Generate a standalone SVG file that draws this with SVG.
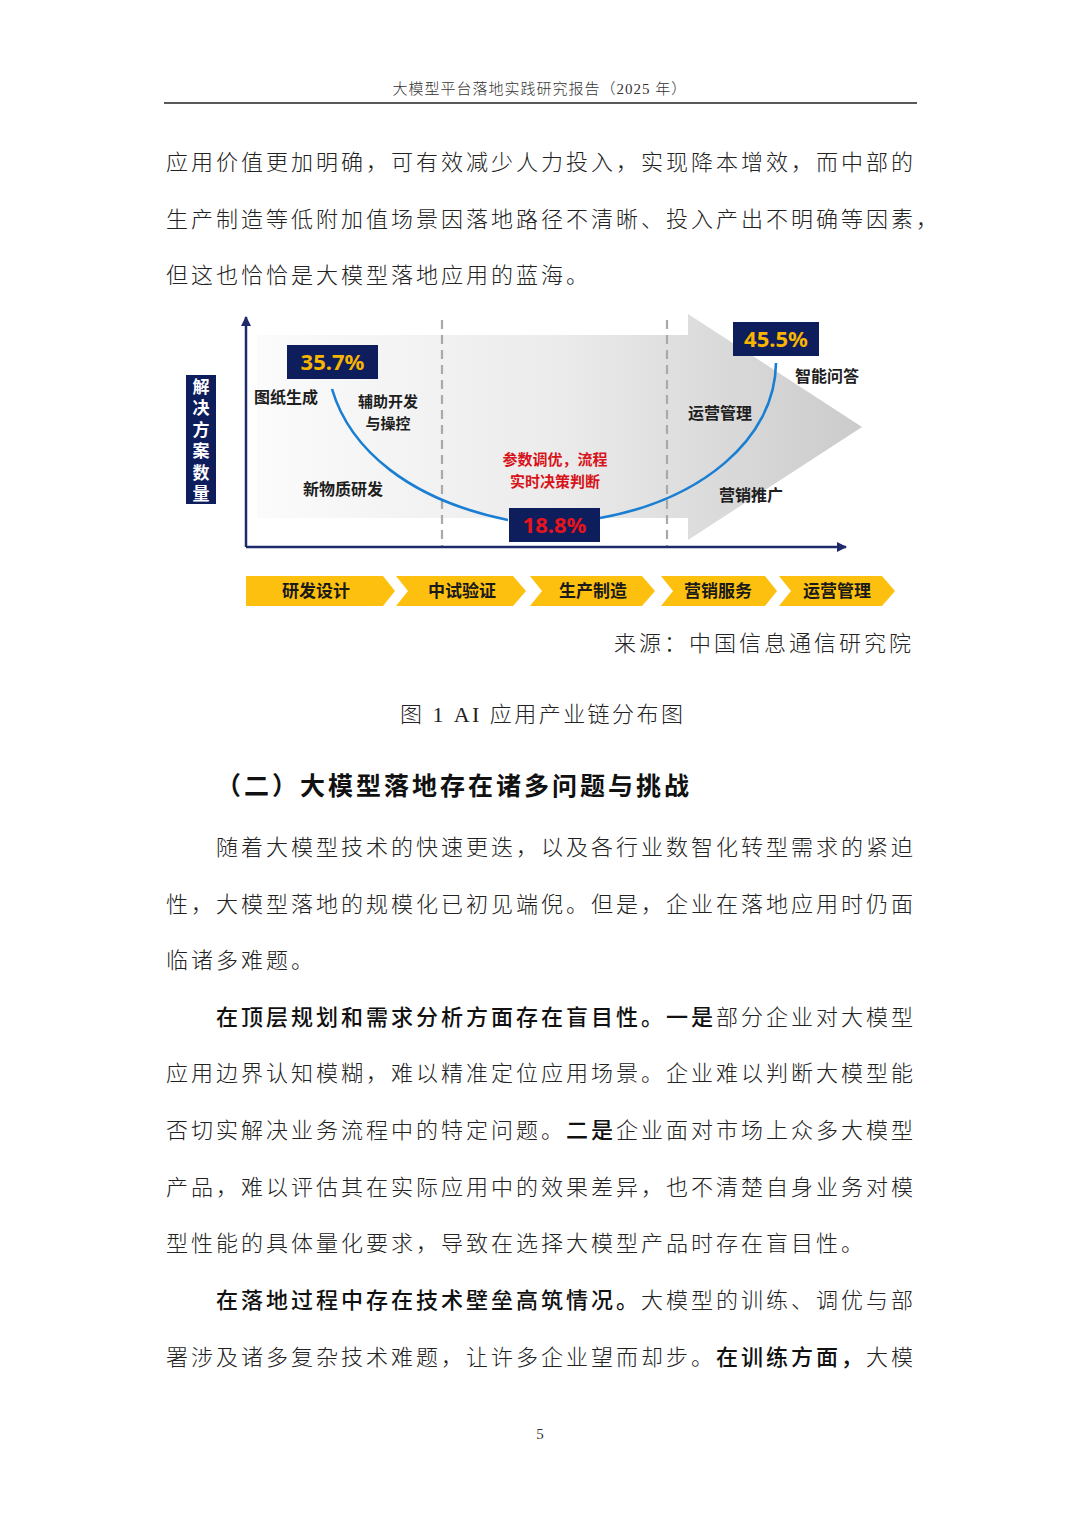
<svg xmlns="http://www.w3.org/2000/svg" width="1080" height="1528" viewBox="0 0 1080 1528">
<defs>
<linearGradient id="bg" x1="257" y1="0" x2="862" y2="0" gradientUnits="userSpaceOnUse">
<stop offset="0" stop-color="#fbfbfb"/>
<stop offset="0.5" stop-color="#ebebeb"/>
<stop offset="1" stop-color="#cbcbcb"/>
</linearGradient>
<marker id="ah" viewBox="0 0 10 10" refX="9" refY="5" markerWidth="4" markerHeight="4" orient="auto" markerUnits="strokeWidth">
<path d="M0,0 L10,5 L0,10 z" fill="#1f2a6b"/>
</marker>
<style>
.body{font-family:"Noto Sans CJK SC","Liberation Serif",serif;font-size:22px;font-weight:300;letter-spacing:3px;fill:#222}
.b{font-weight:500;fill:#111}
.hdr{font-family:"Liberation Serif","Noto Sans CJK SC",serif;font-size:15px;font-weight:300;fill:#333;letter-spacing:1px}
.cap{font-family:"Liberation Serif","Noto Sans CJK SC",serif;font-size:22px;font-weight:300;fill:#222}
.h2{font-family:"Noto Sans CJK SC",sans-serif;font-size:25px;font-weight:700;letter-spacing:3px;fill:#111}
.lbl{font-family:"Noto Sans CJK SC",sans-serif;font-size:16px;font-weight:700;fill:#1e1e1e}
.lbl2{font-family:"Noto Sans CJK SC",sans-serif;font-size:15px;font-weight:700;fill:#1e1e1e}
.red{font-family:"Noto Sans CJK SC",sans-serif;font-size:15px;font-weight:700;fill:#d7141a}
.pct{font-family:"Noto Sans","Noto Sans CJK SC",sans-serif;font-size:22px;font-weight:700}
.box{fill:#0e1d5c}
.chev{fill:#fdc00f}
.chevt{font-family:"Noto Sans CJK SC",sans-serif;font-size:17px;font-weight:700;fill:#1a1a1a;text-anchor:middle}
.dash{stroke:#a9a9a9;stroke-width:2.2;stroke-dasharray:9,6;fill:none}
.axis{stroke:#1f2a6b;stroke-width:2.5;fill:none}
.curve{stroke:#1a7fd2;stroke-width:2.6;fill:none}
.vt{font-family:"Noto Sans CJK SC",sans-serif;font-size:17px;font-weight:700;fill:#fff;letter-spacing:4.5px}
</style>
</defs>
<rect width="1080" height="1528" fill="#fff"/>

<g id="header">
<text class="hdr" x="540" y="94" text-anchor="middle">大模型平台落地实践研究报告（2025 年）</text>
<line x1="164" y1="103" x2="917" y2="103" stroke="#222" stroke-width="1.5"/>
</g>

<g id="para1">
<text class="body" x="166" y="170">应用价值更加明确，可有效减少人力投入，实现降本增效，而中部的</text>
<text class="body" x="166" y="227" letter-spacing="2.6">生产制造等低附加值场景因落地路径不清晰、投入产出不明确等因素，</text>
<text class="body" x="166" y="283">但这也恰恰是大模型落地应用的蓝海。</text>
</g>

<g id="chart">
<g id="background-arrow">
<polygon points="257,335 688,335 688,314 862,427 688,540 688,518 257,518" fill="url(#bg)"/>
</g>
<g id="dividers">
<line class="dash" x1="442" y1="320" x2="442" y2="547"/>
<line class="dash" x1="667" y1="320" x2="667" y2="547"/>
</g>
<g id="connectors">
<line class="axis" x1="246" y1="547" x2="246" y2="317" marker-end="url(#ah)"/>
<line class="axis" x1="246" y1="547" x2="846" y2="547" marker-end="url(#ah)"/>
<path class="curve" d="M332,389 C350,450 410,500 508,520"/>
<path class="curve" d="M600,518 C700,500 775,440 776,363"/>
</g>
<g id="y-label">
<rect x="186" y="375" width="30" height="129" class="box"/>
<text class="vt" x="201" y="378" writing-mode="tb">解决方案数量</text>
</g>
<g id="pct-35">
<rect x="287" y="345" width="91" height="34" class="box"/>
<text class="pct" x="332.5" y="370" text-anchor="middle" fill="#f7b500">35.7%</text>
</g>
<g id="pct-18">
<rect x="509" y="508" width="91" height="34" class="box"/>
<text class="pct" x="554.5" y="533" text-anchor="middle" fill="#e8141b">18.8%</text>
</g>
<g id="pct-45">
<rect x="733" y="322" width="86" height="34" class="box"/>
<text class="pct" x="776" y="347" text-anchor="middle" fill="#f7b500">45.5%</text>
</g>
<g id="lbl-tuzhi"><text class="lbl" x="254" y="403">图纸生成</text></g>
<g id="lbl-fuzhu">
<text class="lbl2" x="388" y="407" text-anchor="middle">辅助开发</text>
<text class="lbl2" x="388" y="429" text-anchor="middle">与操控</text>
</g>
<g id="lbl-xinwuzhi"><text class="lbl" x="303" y="495">新物质研发</text></g>
<g id="lbl-canshu">
<text class="red" x="555" y="465" text-anchor="middle">参数调优，流程</text>
<text class="red" x="555" y="487" text-anchor="middle">实时决策判断</text>
</g>
<g id="lbl-zhineng"><text class="lbl" x="795" y="382">智能问答</text></g>
<g id="lbl-yunying"><text class="lbl" x="688" y="419">运营管理</text></g>
<g id="lbl-yingxiao"><text class="lbl" x="719" y="501">营销推广</text></g>

<g id="chain">
<g id="chev-1"><polygon class="chev" points="246,576 383,576 395,591 383,606 246,606"/><text class="chevt" x="316" y="597">研发设计</text></g>
<g id="chev-2"><polygon class="chev" points="396,576 513,576 526,591 513,606 396,606 408,591"/><text class="chevt" x="462" y="597">中试验证</text></g>
<g id="chev-3"><polygon class="chev" points="530,576 642,576 655,591 642,606 530,606 542,591"/><text class="chevt" x="593" y="597">生产制造</text></g>
<g id="chev-4"><polygon class="chev" points="661,576 765,576 777,591 765,606 661,606 673,591"/><text class="chevt" x="718" y="597">营销服务</text></g>
<g id="chev-5"><polygon class="chev" points="779,576 882,576 895,591 882,606 779,606 791,591"/><text class="chevt" x="837" y="597">运营管理</text></g>
</g>
</g>

<g id="source"><text class="body" x="614" y="651">来源：中国信息通信研究院</text></g>
<g id="caption"><text class="cap" x="400" y="722" textLength="283" lengthAdjust="spacing">图 1 AI 应用产业链分布图</text></g>
<g id="heading"><text class="h2" x="216" y="795">（二）大模型落地存在诸多问题与挑战</text></g>

<g id="para2">
<text class="body" x="216" y="855">随着大模型技术的快速更迭，以及各行业数智化转型需求的紧迫</text>
<text class="body" x="166" y="912">性，大模型落地的规模化已初见端倪。但是，企业在落地应用时仍面</text>
<text class="body" x="166" y="968">临诸多难题。</text>
</g>

<g id="para3">
<text class="body" x="216" y="1025"><tspan class="b">在顶层规划和需求分析方面存在盲目性。一是</tspan>部分企业对大模型</text>
<text class="body" x="166" y="1081">应用边界认知模糊，难以精准定位应用场景。企业难以判断大模型能</text>
<text class="body" x="166" y="1138">否切实解决业务流程中的特定问题。<tspan class="b">二是</tspan>企业面对市场上众多大模型</text>
<text class="body" x="166" y="1195">产品，难以评估其在实际应用中的效果差异，也不清楚自身业务对模</text>
<text class="body" x="166" y="1251">型性能的具体量化要求，导致在选择大模型产品时存在盲目性。</text>
</g>

<g id="para4">
<text class="body" x="216" y="1308"><tspan class="b">在落地过程中存在技术壁垒高筑情况。</tspan>大模型的训练、调优与部</text>
<text class="body" x="166" y="1365">署涉及诸多复杂技术难题，让许多企业望而却步。<tspan class="b">在训练方面，</tspan>大模</text>
</g>

<g id="page-number"><text x="540" y="1439" text-anchor="middle" font-family="Liberation Serif, serif" font-size="15" fill="#333">5</text></g>
</svg>
